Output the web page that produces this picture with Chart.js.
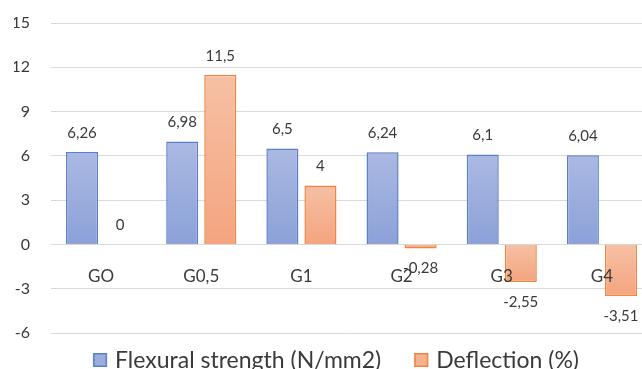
<!DOCTYPE html>
<html>
<head>
<meta charset="utf-8">
<script src="https://cdn.jsdelivr.net/npm/chart.js@4.4.1/dist/chart.umd.min.js"></script>
<style>
  html, body { margin: 0; padding: 0; background: #ffffff; overflow: hidden; }
  #wrap { width: 700px; height: 369px; }
</style>
</head>
<body>
<div id="wrap"><canvas id="c" width="700" height="369"></canvas></div>
<script>
// Sample groups and measured results
const categories = ['GO', 'G0,5', 'G1', 'G2', 'G3', 'G4'];
const flexuralStrength = [6.26, 6.98, 6.5, 6.24, 6.1, 6.04];
const deflection = [0, 11.5, 4, -0.28, -2.55, -3.51];
const yTicks = [-6, -3, 0, 3, 6, 9, 12, 15];
const seriesNames = ['Flexural strength (N/mm2)', 'Deflection (%)'];

const TEXT = '#3a3a3a';
const FONT = 'Lato, "Open Sans", sans-serif';
const BLUE = { top: '#abb9e2', bottom: '#8ba1d8', flat: '#9cadde', line: '#5a7fcb' };
const ORANGE = { top: '#f6c0a4', bottom: '#f4a47f', flat: '#f5b392', line: '#ee8642' };

// Vertical gradient spanning each bar from its top edge to its bottom edge
function barGradient(c) {
  return function (ctx) {
    const chart = ctx.chart;
    if (!chart.chartArea || ctx.type !== 'data') return c.flat;
    const y = chart.scales.y;
    const p0 = y.getPixelForValue(0);
    const p1 = y.getPixelForValue(ctx.raw);
    const top = Math.min(p0, p1), bottom = Math.max(p0, p1);
    if (bottom - top < 1) return c.flat;
    const g = chart.ctx.createLinearGradient(0, top, 0, bottom);
    g.addColorStop(0, c.top);
    g.addColorStop(1, c.bottom);
    return g;
  };
}

// Value labels: above positive bars, below negative ones, decimal comma
const valueLabels = {
  id: 'valueLabels',
  afterDatasetsDraw(chart) {
    const ctx = chart.ctx;
    ctx.save();
    ctx.font = '15px ' + FONT;
    ctx.fillStyle = TEXT;
    ctx.textAlign = 'center';
    ctx.textBaseline = 'middle';
    chart.data.datasets.forEach((ds, di) => {
      const meta = chart.getDatasetMeta(di);
      meta.data.forEach((el, i) => {
        const v = ds.data[i];
        const txt = String(v).replace('.', ',');
        const y = v < 0 ? el.y + 20 : el.y - 19;
        ctx.fillText(txt, el.x, y);
      });
    });
    ctx.restore();
  }
};

// Legend row under the plot: square swatch + series name, centred as a group
const bottomLegend = {
  id: 'bottomLegend',
  afterDraw(chart) {
    const ctx = chart.ctx;
    ctx.save();
    ctx.font = '23px ' + FONT;
    ctx.textBaseline = 'middle';
    ctx.textAlign = 'left';
    const box = 14, boxGap = 8, itemGap = 33, cy = 360, centre = 336;
    const widths = chart.data.datasets.map(ds => ctx.measureText(ds.label).width);
    const total = widths.reduce((s, w) => s + box + boxGap + w, 0) + itemGap * (widths.length - 1);
    let x = centre - total / 2;
    chart.data.datasets.forEach((ds, i) => {
      const c = i === 0 ? BLUE : ORANGE;
      ctx.fillStyle = c.flat;
      ctx.fillRect(x, cy - box / 2, box, box);
      ctx.strokeStyle = c.line;
      ctx.lineWidth = 1.5;
      ctx.strokeRect(x + 0.75, cy - box / 2 + 0.75, box - 1.5, box - 1.5);
      ctx.fillStyle = TEXT;
      ctx.fillText(ds.label, x + box + boxGap, cy + 1);
      x += box + boxGap + widths[i] + itemGap;
    });
    ctx.restore();
  }
};

new Chart(document.getElementById('c'), {
  type: 'bar',
  data: {
    labels: categories,
    datasets: [
      {
        label: seriesNames[0],
        data: flexuralStrength,
        backgroundColor: barGradient(BLUE),
        borderColor: BLUE.line,
        borderWidth: 1.5,
        barPercentage: 0.842,
        categoryPercentage: 0.76
      },
      {
        label: seriesNames[1],
        data: deflection,
        backgroundColor: barGradient(ORANGE),
        borderColor: ORANGE.line,
        borderWidth: 1.5,
        barPercentage: 0.842,
        categoryPercentage: 0.76
      }
    ]
  },
  options: {
    responsive: false,
    animation: false,
    devicePixelRatio: 1,
    layout: { padding: { left: 14, right: 48, top: 23, bottom: 36 } },
    plugins: {
      tooltip: { enabled: false },
      legend: { display: false }
    },
    scales: {
      x: {
        position: { y: 0 },
        grid: { display: false, drawTicks: false },
        border: { display: false },
        ticks: {
          z: 1,
          color: TEXT,
          font: { family: FONT, size: 17 },
          padding: 22
        }
      },
      y: {
        min: yTicks[0],
        max: yTicks[yTicks.length - 1],
        afterBuildTicks(scale) {
          scale.ticks = yTicks.map(v => ({ value: v }));
        },
        afterFit(scale) {
          scale.width = 37;
          scale.paddingTop = 8;
          scale.paddingBottom = 8;
        },
        grid: { color: '#d9d9d9', lineWidth: 1, drawTicks: false },
        border: { display: false },
        ticks: {
          color: TEXT,
          font: { family: FONT, size: 16 },
          padding: 21
        }
      }
    }
  },
  plugins: [valueLabels, bottomLegend]
});
</script>
</body>
</html>
